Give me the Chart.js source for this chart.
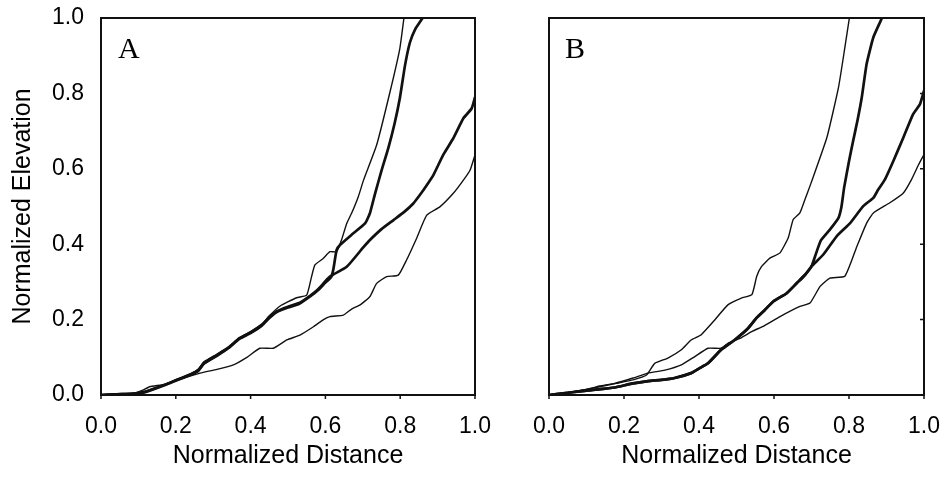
<!DOCTYPE html>
<html>
<head>
<meta charset="utf-8">
<script src="https://cdn.jsdelivr.net/npm/chart.js@4.4.1/dist/chart.umd.min.js"></script>
<style>
  body { margin: 0; background: #fff; }
  #wrap { position: relative; width: 943px; height: 479px; }
  canvas { position: absolute; top: 0; }
</style>
</head>
<body>
<div id="wrap">
  <canvas id="panelA" width="500" height="479" style="left:0"></canvas>
  <canvas id="panelB" width="443" height="479" style="left:500px"></canvas>
</div>
<script>
// values, as [normalized distance, normalized elevation]
const tickValues = [0, 0.2, 0.4, 0.6, 0.8, 1.0];

// panel A
const aThinSteep = [[0,0],[0.04,0.002],[0.09,0.005],[0.11,0.012],[0.13,0.022],[0.17,0.028],[0.2,0.04],[0.24,0.056],[0.26,0.068],[0.275,0.088],[0.31,0.108],[0.34,0.127],[0.37,0.152],[0.4,0.168],[0.43,0.188],[0.45,0.21],[0.479,0.236],[0.523,0.258],[0.55,0.265],[0.563,0.314],[0.572,0.345],[0.594,0.362],[0.612,0.38],[0.63,0.38],[0.643,0.411],[0.657,0.455],[0.67,0.482],[0.688,0.526],[0.702,0.57],[0.737,0.663],[0.773,0.805],[0.799,0.919],[0.81,1.0]];
const aThickSteep = [[0,0],[0.04,0.002],[0.09,0.004],[0.12,0.008],[0.17,0.026],[0.2,0.038],[0.24,0.054],[0.26,0.064],[0.275,0.083],[0.31,0.104],[0.34,0.124],[0.37,0.149],[0.4,0.164],[0.43,0.184],[0.45,0.204],[0.47,0.22],[0.5,0.232],[0.53,0.242],[0.56,0.262],[0.58,0.278],[0.6,0.298],[0.615,0.312],[0.621,0.332],[0.63,0.385],[0.639,0.398],[0.67,0.425],[0.706,0.455],[0.719,0.482],[0.733,0.535],[0.75,0.595],[0.768,0.654],[0.785,0.72],[0.799,0.787],[0.813,0.875],[0.826,0.935],[0.84,0.97],[0.86,1.0]];
const aThickMild = [[0,0],[0.04,0.002],[0.09,0.004],[0.12,0.009],[0.17,0.027],[0.2,0.039],[0.24,0.055],[0.26,0.066],[0.275,0.084],[0.31,0.106],[0.34,0.125],[0.37,0.15],[0.4,0.166],[0.43,0.186],[0.45,0.206],[0.47,0.222],[0.5,0.234],[0.53,0.244],[0.56,0.264],[0.58,0.28],[0.612,0.314],[0.657,0.34],[0.7,0.39],[0.719,0.411],[0.75,0.44],[0.782,0.464],[0.81,0.485],[0.835,0.508],[0.853,0.531],[0.87,0.555],[0.889,0.584],[0.915,0.637],[0.942,0.681],[0.969,0.734],[0.991,0.76],[1.0,0.79]];
const aThinLow = [[0,0],[0.05,0.002],[0.1,0.005],[0.15,0.02],[0.2,0.038],[0.265,0.058],[0.31,0.068],[0.354,0.08],[0.39,0.1],[0.425,0.124],[0.461,0.124],[0.497,0.146],[0.532,0.159],[0.568,0.181],[0.595,0.2],[0.612,0.208],[0.648,0.212],[0.67,0.228],[0.693,0.239],[0.719,0.261],[0.737,0.296],[0.764,0.314],[0.795,0.318],[0.817,0.358],[0.844,0.416],[0.871,0.477],[0.906,0.499],[0.942,0.535],[0.969,0.57],[0.987,0.597],[1.0,0.637]];

// panel B
const bThinSteep = [[0,0],[0.05,0.006],[0.091,0.013],[0.135,0.022],[0.18,0.031],[0.224,0.04],[0.26,0.053],[0.282,0.084],[0.317,0.098],[0.353,0.12],[0.379,0.146],[0.406,0.16],[0.442,0.199],[0.477,0.239],[0.513,0.257],[0.541,0.266],[0.554,0.315],[0.567,0.341],[0.589,0.363],[0.616,0.377],[0.638,0.417],[0.651,0.465],[0.669,0.483],[0.683,0.52],[0.698,0.56],[0.741,0.683],[0.772,0.816],[0.789,0.922],[0.801,1.0]];
const bThickSteep = [[0,0],[0.05,0.006],[0.113,0.013],[0.175,0.02],[0.22,0.03],[0.264,0.037],[0.3,0.04],[0.335,0.045],[0.379,0.058],[0.4,0.07],[0.424,0.084],[0.459,0.12],[0.495,0.146],[0.531,0.177],[0.554,0.205],[0.575,0.225],[0.598,0.248],[0.634,0.27],[0.661,0.297],[0.683,0.319],[0.7,0.341],[0.712,0.375],[0.725,0.41],[0.75,0.44],[0.772,0.47],[0.78,0.5],[0.787,0.55],[0.8,0.62],[0.811,0.674],[0.823,0.73],[0.834,0.789],[0.847,0.878],[0.865,0.949],[0.888,1.0]];
const bThickMild = [[0,0],[0.05,0.006],[0.113,0.013],[0.175,0.02],[0.22,0.03],[0.264,0.037],[0.3,0.04],[0.335,0.045],[0.379,0.058],[0.4,0.07],[0.424,0.084],[0.459,0.12],[0.495,0.146],[0.531,0.177],[0.554,0.205],[0.575,0.225],[0.598,0.248],[0.634,0.27],[0.661,0.297],[0.683,0.319],[0.7,0.341],[0.731,0.372],[0.767,0.421],[0.803,0.456],[0.838,0.501],[0.865,0.523],[0.878,0.545],[0.896,0.572],[0.918,0.62],[0.945,0.683],[0.971,0.745],[0.989,0.771],[1.0,0.807]];
const bThinLow = [[0,0],[0.05,0.006],[0.113,0.018],[0.135,0.024],[0.175,0.031],[0.224,0.045],[0.264,0.058],[0.309,0.066],[0.353,0.08],[0.389,0.102],[0.424,0.124],[0.459,0.124],[0.477,0.137],[0.509,0.15],[0.544,0.17],[0.571,0.182],[0.616,0.208],[0.669,0.235],[0.696,0.244],[0.723,0.288],[0.749,0.31],[0.789,0.315],[0.821,0.394],[0.847,0.456],[0.865,0.483],[0.909,0.51],[0.945,0.536],[0.967,0.572],[0.985,0.61],[1.0,0.638]];

const INK = "#111";
const THIN = 1.4;
const THICK = 2.7;

Chart.defaults.font.family = '"Liberation Sans", Arial, sans-serif';
Chart.defaults.color = "#000";

function line(points, width) {
    return {
        data: points.map(([x, y]) => ({ x, y })),
        showLine: true,
        borderColor: INK,
        borderWidth: width,
        pointRadius: 0,
        tension: 0.15,
        fill: false,
    };
}

// label overflow would otherwise push the plot box around; the canvas has room for it
function noOverflow(s) {
    s.paddingTop = 0;
    s.paddingBottom = 0;
    s.paddingLeft = 0;
    s.paddingRight = 0;
}

// box around the plot, little tick marks and the panel letter
const framePlugin = {
    id: "frame",
    afterDraw(chart, args, opts) {
        const { ctx, chartArea: a, scales } = chart;
        ctx.save();
        ctx.strokeStyle = INK;
        ctx.lineWidth = 2;
        ctx.strokeRect(a.left, a.top, a.right - a.left, a.bottom - a.top);
        ctx.lineWidth = 1.5;
        ctx.beginPath();
        tickValues.forEach((v) => {
            const px = scales.x.getPixelForValue(v);
            ctx.moveTo(px, a.bottom);
            ctx.lineTo(px, a.bottom + 4);
            if (opts.rightTicks) {
                const py = scales.y.getPixelForValue(v);
                ctx.moveTo(a.right, py);
                ctx.lineTo(a.right - 4, py);
            }
        });
        ctx.stroke();
        ctx.fillStyle = "#000";
        ctx.font = '30px "Liberation Serif", "Times New Roman", serif';
        ctx.textBaseline = "alphabetic";
        ctx.fillText(opts.letter, a.left + opts.letterDx, a.top + 40);
        ctx.restore();
    },
};

function makePanel(id, series, letter, leftWidth, rightPad, showY) {
    new Chart(document.getElementById(id), {
        type: "scatter",
        data: { datasets: series },
        plugins: [framePlugin],
        options: {
            responsive: false,
            animation: false,
            layout: { padding: { left: 0, right: rightPad, top: 18, bottom: 0 } },
            plugins: {
                legend: { display: false },
                tooltip: { enabled: false },
                frame: { letter, letterDx: letter === "A" ? 17 : 16, rightTicks: !showY },
            },
            scales: {
                x: {
                    type: "linear",
                    min: 0,
                    max: 1,
                    grid: { display: false },
                    border: { display: false },
                    afterFit: (s) => { s.height = 84; noOverflow(s); },
                    ticks: {
                        stepSize: 0.2,
                        autoSkip: false,
                        maxRotation: 0,
                        padding: 10,
                        font: { size: 23 },
                        callback: (v) => Number(v).toFixed(1),
                    },
                    title: {
                        display: true,
                        text: "Normalized Distance",
                        font: { size: 25 },
                        padding: { top: 0, bottom: 8 },
                    },
                },
                y: {
                    type: "linear",
                    min: 0,
                    max: 1,
                    grid: { display: false },
                    border: { display: false },
                    afterFit: (s) => { s.width = leftWidth; noOverflow(s); },
                    ticks: {
                        display: showY,
                        stepSize: 0.2,
                        padding: 9,
                        font: { size: 23 },
                        callback: (v) => Number(v).toFixed(1),
                    },
                    title: {
                        display: showY,
                        text: "Normalized Elevation",
                        font: { size: 25 },
                        padding: { top: 8, bottom: 0 },
                    },
                },
            },
        },
    });
}

makePanel("panelA", [
    line(aThinSteep, THIN),
    line(aThickSteep, THICK),
    line(aThickMild, THICK),
    line(aThinLow, THIN),
], "A", 101, 25, true);

makePanel("panelB", [
    line(bThinSteep, THIN),
    line(bThickSteep, THICK),
    line(bThickMild, THICK),
    line(bThinLow, THIN),
], "B", 49, 19, false);
</script>
</body>
</html>
